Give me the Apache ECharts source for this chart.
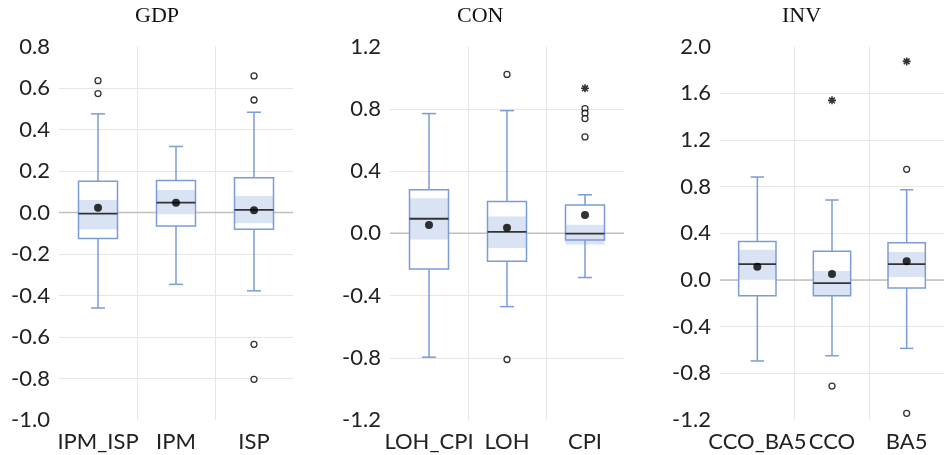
<!DOCTYPE html>
<html>
<head>
<meta charset="utf-8">
<script src="https://cdn.jsdelivr.net/npm/echarts@6/dist/echarts.min.js"></script>
<style>
  html, body { margin: 0; padding: 0; background: #fff; }
  #chart { width: 944px; height: 455px; }
</style>
</head>
<body>
<div id="chart"></div>
<script>
// box stats: [min whisker, Q1, median, Q3, max whisker]
const gdpCats = ['IPM_ISP', 'IPM', 'ISP']
const gdpBoxes = [
  [-0.46, -0.125, -0.005, 0.151, 0.476],
  [-0.346, -0.064, 0.048, 0.155, 0.319],
  [-0.377, -0.080, 0.013, 0.168, 0.484],
]
const gdpBands = [[-0.080, 0.061], [-0.008, 0.109], [-0.051, 0.080]]
const gdpMeans = [0.024, 0.048, 0.011]
const gdpOutliers = [[0, 0.636], [0, 0.574], [2, 0.659], [2, 0.543], [2, -0.635], [2, -0.804]]
const gdpExtremes = []

const conCats = ['LOH_CPI', 'LOH', 'CPI']
const conBoxes = [
  [-0.796, -0.229, 0.094, 0.280, 0.770],
  [-0.471, -0.180, 0.009, 0.205, 0.789],
  [-0.284, -0.043, -0.002, 0.182, 0.248],
]
const conBands = [[-0.039, 0.225], [-0.094, 0.109], [-0.071, 0.056]]
const conMeans = [0.053, 0.036, 0.118]
const conOutliers = [[1, 1.022], [1, -0.811], [2, 0.802], [2, 0.772], [2, 0.738], [2, 0.620]]
const conExtremes = [[2, 0.933]]

const invCats = ['CCO_BA5', 'CCO', 'BA5']
const invBoxes = [
  [-0.694, -0.134, 0.137, 0.331, 0.883],
  [-0.649, -0.134, -0.026, 0.246, 0.686],
  [-0.586, -0.069, 0.137, 0.320, 0.774],
]
const invBands = [[0.003, 0.260], [-0.134, 0.077], [0.026, 0.240]]
const invMeans = [0.114, 0.051, 0.160]
const invOutliers = [[1, -0.909], [2, 0.949], [2, -1.143]]
const invExtremes = [[1, 1.540], [2, 1.874]]

const BLUE = '#7b9cd6'
const BAND = '#dae3f3'
const GRID = '#e6e6e6'
const LABEL = '#222'
const STAR = 'path://M5,0L5,10M0,5L10,5M1.4,1.4L8.6,8.6M8.6,1.4L1.4,8.6'

const panels = [
  { title: 'GDP', titleX: 135, left: 59, cats: gdpCats, boxes: gdpBoxes, bands: gdpBands, means: gdpMeans, outliers: gdpOutliers, extremes: gdpExtremes, min: -1.0, max: 0.8, interval: 0.2 },
  { title: 'CON', titleX: 457, left: 390, cats: conCats, boxes: conBoxes, bands: conBands, means: conMeans, outliers: conOutliers, extremes: conExtremes, min: -1.2, max: 1.2, interval: 0.4 },
  { title: 'INV', titleX: 782, left: 720, cats: invCats, boxes: invBoxes, bands: invBands, means: invMeans, outliers: invOutliers, extremes: invExtremes, min: -1.2, max: 2.0, interval: 0.4 },
]

function renderBox(params, api) {
  const idx = api.value(0)
  const x = api.coord([idx, 0])[0]
  const cw = api.size([1, 0])[0]
  const w = cw * 0.5
  const cap = cw * 0.18
  const y = (i) => api.coord([idx, api.value(i)])[1]
  const yMin = y(1), yQ1 = y(2), yMed = y(3), yQ3 = y(4), yMax = y(5), yLo = y(6), yHi = y(7)
  const line = (x1, y1, x2, y2, stroke, lw) => ({
    type: 'line', shape: { x1, y1, x2, y2 }, style: { stroke, lineWidth: lw },
  })
  const children = []
  // zero line across the whole grid, drawn once, under the boxes
  if (params.dataIndex === 0) {
    const cs = params.coordSys
    const y0 = api.coord([idx, 0])[1]
    children.push(line(cs.x, y0, cs.x + cs.width, y0, '#bfbfbf', 1.5))
  }
  children.push(
    { type: 'rect', shape: { x: x - w / 2, y: yQ3, width: w, height: yQ1 - yQ3 }, style: { fill: '#fff' } },
    { type: 'rect', shape: { x: x - w / 2, y: yHi, width: w, height: yLo - yHi }, style: { fill: BAND } },
    { type: 'rect', shape: { x: x - w / 2, y: yQ3, width: w, height: yQ1 - yQ3 }, style: { fill: 'none', stroke: BLUE, lineWidth: 1.5 } },
    line(x, yQ3, x, yMax, BLUE, 1.5),
    line(x, yQ1, x, yMin, BLUE, 1.5),
    line(x - cap / 2, yMax, x + cap / 2, yMax, BLUE, 1.5),
    line(x - cap / 2, yMin, x + cap / 2, yMin, BLUE, 1.5),
    line(x - w / 2, yMed, x + w / 2, yMed, '#333', 1.8),
  )
  return { type: 'group', children }
}

const chart = echarts.init(document.getElementById('chart'))

const option = {
  animation: false,
  title: panels.map((p) => ({
    text: p.title,
    left: p.titleX,
    top: 5,
    padding: 0,
    textStyle: { fontFamily: 'Liberation Serif', fontSize: 22, fontWeight: 'normal', color: '#111' },
  })),
  grid: panels.map((p) => ({ left: p.left, top: 46.7, width: 234, height: 373.3 })),
  xAxis: panels.map((p, i) => ({
    type: 'category',
    gridIndex: i,
    data: p.cats,
    axisLine: { show: false },
    axisTick: { show: false },
    axisLabel: { fontFamily: 'Lato', fontSize: 22, color: LABEL, margin: 11, interval: 0 },
    splitLine: { show: true, showMinLine: false, showMaxLine: false, lineStyle: { color: GRID, width: 1 } },
  })),
  yAxis: panels.map((p, i) => ({
    type: 'value',
    gridIndex: i,
    min: p.min,
    max: p.max,
    interval: p.interval,
    axisLine: { show: false },
    axisTick: { show: false },
    axisLabel: {
      fontFamily: 'Lato', fontSize: 22, color: LABEL, margin: 9,
      formatter: (v) => (Math.abs(v) < 1e-9 ? '0.0' : v.toFixed(1)),
    },
    splitLine: { show: true, showMinLine: false, showMaxLine: false, lineStyle: { color: GRID, width: 1.2 } },
  })),
  series: panels.flatMap((p, i) => [
    {
      type: 'custom',
      xAxisIndex: i,
      yAxisIndex: i,
      z: 2,
      renderItem: renderBox,
      encode: { x: 0, y: [1, 2, 3, 4, 5, 6, 7] },
      data: p.boxes.map((b, k) => [k, ...b, ...p.bands[k]]),
    },
    {
      type: 'scatter',
      xAxisIndex: i,
      yAxisIndex: i,
      z: 3,
      symbol: 'circle',
      symbolSize: 8,
      itemStyle: { color: '#000' },
      data: p.means.map((m, k) => [k, m]),
    },
    {
      type: 'scatter',
      xAxisIndex: i,
      yAxisIndex: i,
      z: 3,
      symbol: 'circle',
      symbolSize: 6,
      itemStyle: { color: '#fff', borderColor: '#000', borderWidth: 1.3 },
      data: p.outliers,
    },
    {
      type: 'scatter',
      xAxisIndex: i,
      yAxisIndex: i,
      z: 3,
      symbol: STAR,
      symbolSize: 8,
      itemStyle: { color: '#000', borderColor: '#000', borderWidth: 1.6 },
      data: p.extremes,
    },
  ]),
}

chart.setOption(option)
</script>
</body>
</html>
